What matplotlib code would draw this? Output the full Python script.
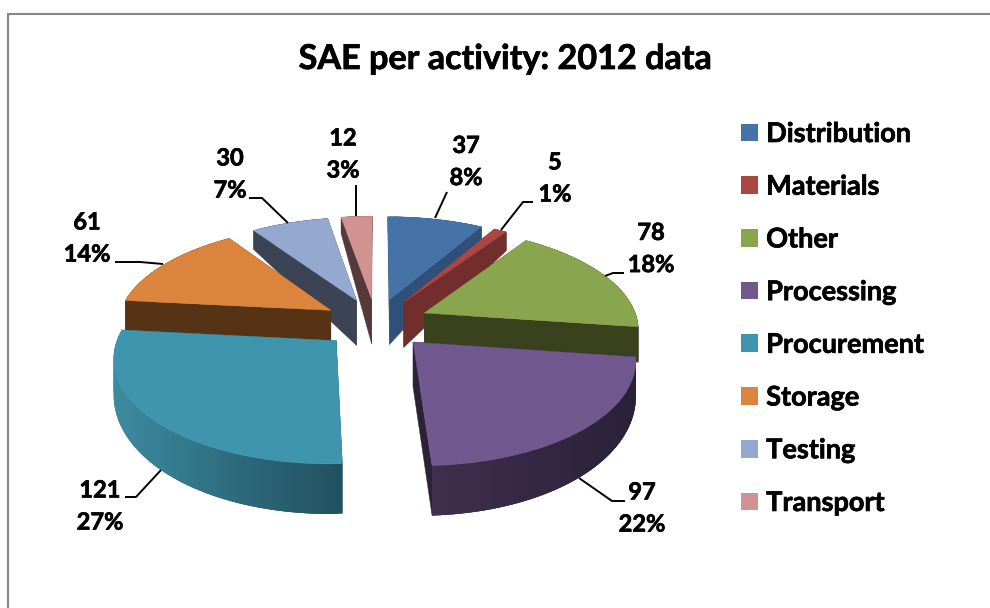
import numpy as np
import matplotlib
matplotlib.use("Agg")
import matplotlib.pyplot as plt
from matplotlib.patches import Patch, Polygon
from matplotlib.colors import to_rgb
import matplotlib.patheffects as pe

plt.rcParams['font.family'] = ['Lato', 'DejaVu Sans']

categories = ["Distribution", "Materials", "Other", "Processing",
              "Procurement", "Storage", "Testing", "Transport"]
values = [37, 5, 78, 97, 121, 61, 30, 12]
top_colors = ["#4572A7", "#AA4643", "#89A54E", "#71588F",
              "#4095AE", "#DB843D", "#93A9CF", "#D19392"]
wall_colors = ["#2F5078", "#722E2D", "#3A421D", "#2B2139",
               "#21505F", "#573316", "#3B4355", "#563A3A"]
rim_left = ["#2F5078", "#722E2D", "#3A421D", "#402F4E",
            "#3C8BA0", "#573316", "#3B4355", "#563A3A"]
rim_right = ["#2F5078", "#722E2D", "#3A421D", "#2A2038",
             "#21505F", "#573316", "#3B4355", "#563A3A"]
label_pos = [(466, 161.5), (555, 178), (651, 248.5), (642, 508),
             (100, 506), (87, 238), (230, 174), (343, 154)]
leaders = [[(447, 192), (435, 218)],
           [(533, 202), (523, 202), (501, 230)],
           [(624, 273), (613, 273), (605, 276)],
           [(625, 501), (612, 501), (579, 478)],
           [(125, 497), (136, 497), (161, 470)],
           [(115, 262), (140, 262), (163, 264)],
           [(249, 198), (262, 198), (288, 223)],
           [(356, 185), (356, 216)]]

CX, CY, A, B, K, EXPLODE = 376, 323, 214, 100.5, 0.14, 0.25

fig = plt.figure(figsize=(9.9, 6.08), dpi=100)
ax = fig.add_axes([0, 0, 1, 1])
ax.set_xlim(0, 990)
ax.set_ylim(608, 0)
ax.axis("off")

ax.plot([8, 8, 990], [608, 14, 14], color="#868686", lw=1.5, solid_joinstyle="miter")


def project(u, v):
    s = 1 / (1 - K * v)
    return CX + A * u * s, CY + B * v * s


def rim_depth(theta):
    return 33 - 17 * np.cos(theta)


total = sum(values)
edges = np.cumsum([0] + values) / total * 2 * np.pi
slices = []
for i in range(len(values)):
    t0, t1 = edges[i], edges[i + 1]
    mid = (t0 + t1) / 2
    slices.append((-np.cos(mid) * EXPLODE, i, t0, t1, mid))


def mix(c0, c1, f):
    a, b = np.array(to_rgb(c0)), np.array(to_rgb(c1))
    return tuple(a + (b - a) * f)


heavy = [pe.withStroke(linewidth=0.5, foreground="black")]

for _, i, t0, t1, mid in sorted(slices):
    ou, ov = np.sin(mid) * EXPLODE, -np.cos(mid) * EXPLODE
    ts = np.linspace(t0, t1, max(8, int((t1 - t0) * 60)))
    xs, ys = project(ou + np.sin(ts), ov - np.cos(ts))
    ax_, ay_ = project(ou, ov)
    deps = rim_depth(ts)
    for x_e, y_e, d_e in ((xs[0], ys[0], deps[0]), (xs[-1], ys[-1], deps[-1])):
        ax.add_patch(Polygon([(ax_, ay_), (x_e, y_e), (x_e, y_e + d_e), (ax_, ay_ + 45)],
                             closed=True, fc=wall_colors[i], ec=wall_colors[i], lw=0.3))
    # outer rim: overlapping strips so that no seams show
    lo, hi = xs.min(), xs.max()
    n = len(ts)
    for j in range(n - 1):
        k = min(j + 3, n - 1)
        f = ((xs[j] + xs[j + 1]) / 2 - lo) / max(hi - lo, 1)
        c = mix(rim_left[i], rim_right[i], f)
        strip_x = xs[j:k + 1]
        strip_y = ys[j:k + 1]
        strip_d = deps[j:k + 1]
        pts = np.r_[np.c_[strip_x, strip_y], np.c_[strip_x, strip_y + strip_d][::-1]]
        ax.add_patch(Polygon(pts, closed=True, fc=c, ec="none", lw=0))
    ax.add_patch(Polygon(np.r_[[(ax_, ay_)], np.c_[xs, ys]], closed=True,
                         fc=top_colors[i], ec=top_colors[i], lw=0.3))

for pts in leaders:
    p = np.array(pts)
    ax.plot(p[:, 0], p[:, 1], color="black", lw=1.4, solid_capstyle="butt")

for (x, y), v in zip(label_pos, values):
    ax.text(x, y, f"{v}\n{round(100 * v / total)}%", ha="center", va="center",
            fontsize=17, fontweight="bold", linespacing=1.48, color="black",
            path_effects=heavy)

ax.text(505, 59, "SAE per activity: 2012 data", ha="center", va="center",
        fontsize=24.6, fontweight="bold", color="black", path_effects=heavy)

handles = [Patch(fc=c, ec="none", label=n) for c, n in zip(top_colors, categories)]
leg = ax.legend(handles=handles, loc="upper left", bbox_to_anchor=(741, 122),
                bbox_transform=ax.transData, frameon=False, borderpad=0,
                borderaxespad=0, handlelength=0.63, handleheight=0.63, handletextpad=0.3,
                labelspacing=1.06, labelcolor="black", prop={"weight": "bold", "size": 19.5})
for t in leg.get_texts():
    t.set_path_effects(heavy)

fig.savefig("out.png", dpi=100)
